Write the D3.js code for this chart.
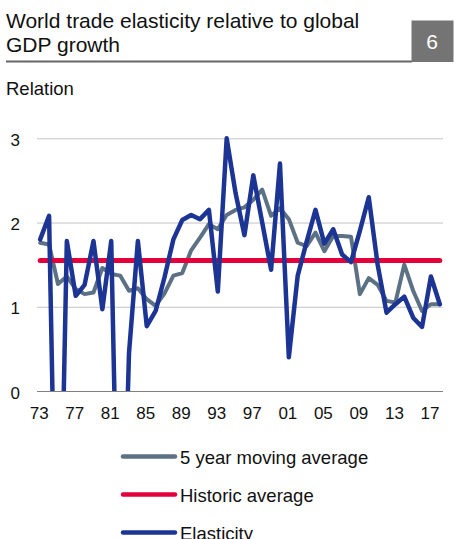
<!DOCTYPE html>
<html>
<head>
<meta charset="utf-8">
<script src="https://cdn.jsdelivr.net/npm/d3@7"></script>
<style>
  html, body { margin: 0; padding: 0; background: #fff; }
  svg { display: block; font-family: "Liberation Sans", Arial, sans-serif; }
</style>
</head>
<body>
<svg id="chart" width="454" height="539"></svg>
<script>
const years = [1973,1974,1975,1976,1977,1978,1979,1980,1981,1982,1983,1984,1985,1986,1987,1988,1989,1990,1991,1992,1993,1994,1995,1996,1997,1998,1999,2000,2001,2002,2003,2004,2005,2006,2007,2008,2009,2010,2011,2012,2013,2014,2015,2016,2017,2018];
const elasticity = [1.80,2.08,-3.4,1.78,1.13,1.26,1.78,0.97,1.78,-3.3,0.45,1.78,0.77,0.95,1.35,1.80,2.03,2.09,2.04,2.15,1.18,3.0,2.35,1.85,2.56,2.0,1.44,2.70,0.40,1.37,1.77,2.15,1.75,1.92,1.62,1.53,1.9,2.30,1.5,0.93,1.03,1.12,0.87,0.76,1.36,1.03];
const movingAverage = [1.76,1.74,1.27,1.36,1.21,1.15,1.17,1.46,1.39,1.37,1.19,1.22,1.09,1.01,1.16,1.37,1.40,1.67,1.82,1.98,1.92,2.09,2.15,2.18,2.27,2.39,2.08,2.17,2.04,1.76,1.72,1.88,1.66,1.84,1.84,1.83,1.15,1.34,1.26,1.07,1.05,1.50,1.19,0.95,1.03,1.03];
const historicAverage = [1.55];
const yTicks = [0,1,2,3];
const xTickYears = [1973,1977,1981,1985,1989,1993,1997,2001,2005,2009,2013,2017];
const legendLabels = ["5 year moving average","Historic average","Elasticity"];

const colors = { avg: "#5d7184", hist: "#e4003b", el: "#1c3594" };

const svg = d3.select("#chart");

// Title block
svg.append("text").attr("x", 6).attr("y", 28).attr("font-size", 21).attr("fill", "#111")
  .text("World trade elasticity relative to global");
svg.append("text").attr("x", 6).attr("y", 52).attr("font-size", 21).attr("fill", "#111")
  .text("GDP growth");
svg.append("line").attr("x1", 6).attr("x2", 412).attr("y1", 61.5).attr("y2", 61.5)
  .attr("stroke", "#666").attr("stroke-width", 2);
svg.append("rect").attr("x", 411.5).attr("y", 20.5).attr("width", 42).attr("height", 41.5).attr("fill", "#747474");
svg.append("text").attr("x", 432).attr("y", 48.5).attr("font-size", 21).attr("fill", "#fff")
  .attr("text-anchor", "middle").text("6");

svg.append("text").attr("x", 6).attr("y", 95).attr("font-size", 18.5).attr("fill", "#111").text("Relation");

// Scales
const x = d3.scalePoint().domain(years).range([37, 443]).padding(0.36);
const y = d3.scaleLinear().domain([0, 3]).range([391, 138.3]);

// Gridlines
svg.append("g").selectAll("line").data(yTicks).join("line")
  .attr("x1", 37).attr("x2", 443)
  .attr("y1", d => y(d) + 0.5).attr("y2", d => y(d) + 0.5)
  .attr("stroke", d => d === 0 ? "#808080" : "#c4c4c4").attr("stroke-width", 1);

// Y labels
svg.append("g").selectAll("text").data(yTicks).join("text")
  .attr("x", 20).attr("y", d => y(d) + 7.5)
  .attr("text-anchor", "end").attr("font-size", 17).attr("fill", "#111")
  .text(d => d);

// X labels
svg.append("g").selectAll("text").data(xTickYears).join("text")
  .attr("x", d => x(d) - 1).attr("y", 418.5)
  .attr("text-anchor", "middle").attr("font-size", 17).attr("fill", "#111")
  .text(d => String(d).slice(2));

// Clip
svg.append("defs").append("clipPath").attr("id", "plotClip")
  .append("rect").attr("x", 30).attr("y", 120).attr("width", 424).attr("height", 391 - 120);

const plot = svg.append("g").attr("clip-path", "url(#plotClip)");
const line = d3.line().x((d, i) => x(years[i])).y(d => y(d));

plot.append("path").datum(movingAverage).attr("d", line)
  .attr("fill", "none").attr("stroke", colors.avg).attr("stroke-width", 4)
  .attr("stroke-linejoin", "round").attr("stroke-linecap", "round");

plot.append("line")
  .attr("x1", x(years[0])).attr("x2", x(years[years.length - 1]))
  .attr("y1", y(historicAverage[0])).attr("y2", y(historicAverage[0]))
  .attr("stroke", colors.hist).attr("stroke-width", 5).attr("stroke-linecap", "round");

plot.append("path").datum(elasticity).attr("d", line)
  .attr("fill", "none").attr("stroke", colors.el).attr("stroke-width", 4.5)
  .attr("stroke-linejoin", "round").attr("stroke-linecap", "round");

// Legend
const legendColors = [colors.avg, colors.hist, colors.el];
const lg = svg.append("g").selectAll("g").data(legendLabels).join("g")
  .attr("transform", (d, i) => `translate(0, ${456.5 + i * 38})`);
lg.append("line").attr("x1", 123).attr("x2", 175).attr("y1", 0).attr("y2", 0)
  .attr("stroke", (d, i) => legendColors[i]).attr("stroke-width", 4.5).attr("stroke-linecap", "round");
lg.append("text").attr("x", 180).attr("y", 7).attr("font-size", 18.5).attr("fill", "#111").text(d => d);
</script>
</body>
</html>
